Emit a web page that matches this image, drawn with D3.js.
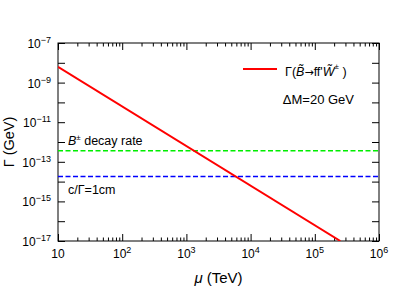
<!DOCTYPE html>
<html>
<head>
<meta charset="utf-8">
<script src="https://cdn.jsdelivr.net/npm/d3@7"></script>
<style>
  body { margin: 0; background: #fff; }
  svg { font-family: "Liberation Sans", Arial, sans-serif; }
</style>
</head>
<body>
<div id="vis"></div>
<script>
// curve endpoints (straight line in log-log)
var muValues = [10, 2.5e5];
var gammaValues = [6.2e-9, 1e-17];
// horizontal reference levels
var refNames = ["B decay rate", "c/Γ=1cm"];
var refValues = [3.6e-13, 1.8e-14];
var refColors = ["#00ee00", "#0000ff"];
// tick exponents
var xTickExp = [1, 2, 3, 4, 5, 6];
var yTickExp = [-7, -8, -9, -10, -11, -12, -13, -14, -15, -16, -17];
var yLabelExp = [-7, -9, -11, -13, -15, -17];

var margin = {top: 43, right: 36, bottom: 48, left: 58};
var W = 415, H = 289;
var width = W - margin.left - margin.right,
    height = H - margin.top - margin.bottom;

var svg = d3.select("#vis").append("svg")
  .attr("width", W)
  .attr("height", H);

var g = svg.append("g")
  .attr("transform", "translate(" + margin.left + "," + margin.top + ")");

var x = d3.scaleLog().domain([10, 1e6]).range([0, width]);
var y = d3.scaleLog().domain([1e-17, 1e-7]).range([height, 0]);

// minor x ticks 2..9 per decade
var xMajor = xTickExp.map(function(e) { return Math.pow(10, e); });
var xMinor = [];
xTickExp.slice(0, -1).forEach(function(e) {
  for (var m = 2; m < 10; m++) xMinor.push(m * Math.pow(10, e));
});
var yMajor = yTickExp.map(function(e) { return Math.pow(10, e); });

function tickAxis(axis, vals, size) {
  return axis.tickValues(vals).tickSize(size).tickFormat("");
}

var axes = g.append("g").attr("class", "axes");
axes.append("g").attr("transform", "translate(0," + height + ")").call(tickAxis(d3.axisBottom(x), xMajor, -7));
axes.append("g").attr("transform", "translate(0," + height + ")").call(tickAxis(d3.axisBottom(x), xMinor, -3.5));
axes.append("g").call(tickAxis(d3.axisTop(x), xMajor, -7));
axes.append("g").call(tickAxis(d3.axisTop(x), xMinor, -3.5));
axes.append("g").call(tickAxis(d3.axisLeft(y), yMajor, -7));
axes.append("g").attr("transform", "translate(" + width + ",0)").call(tickAxis(d3.axisRight(y), yMajor, -7));
axes.selectAll(".domain").remove();
axes.selectAll("line").attr("stroke", "#000");

g.append("rect")
  .attr("width", width).attr("height", height)
  .attr("fill", "none").attr("stroke", "#000").attr("stroke-width", 1);

// x tick labels
var xl = g.append("g").attr("font-size", 12).attr("text-anchor", "middle");
xTickExp.forEach(function(e) {
  var t = xl.append("text").attr("x", x(Math.pow(10, e))).attr("y", height + 17);
  if (e === 1) { t.text("10"); return; }
  t.append("tspan").text("10");
  t.append("tspan").attr("dy", -5).attr("font-size", 9).text(e);
});

// y tick labels
var yl = g.append("g").attr("font-size", 12).attr("text-anchor", "end");
yLabelExp.forEach(function(e) {
  var t = yl.append("text").attr("x", -7).attr("y", y(Math.pow(10, e)) + 5);
  t.append("tspan").text("10");
  t.append("tspan").attr("dy", -5).attr("font-size", 9).text("\u2212" + (-e));
});

// axis titles
g.append("text")
  .attr("x", width / 2).attr("y", height + 42)
  .attr("text-anchor", "middle").attr("font-size", 15)
  .html('<tspan font-style="italic">μ</tspan> (TeV)');

g.append("text")
  .attr("transform", "translate(" + (-44) + "," + (height / 2) + ") rotate(-90)")
  .attr("text-anchor", "middle").attr("font-size", 14.5)
  .text("Γ (GeV)");

var clip = svg.append("clipPath").attr("id", "clip")
  .append("rect").attr("width", width).attr("height", height);

var plot = g.append("g").attr("clip-path", "url(#clip)");

// reference lines
refValues.forEach(function(v, i) {
  plot.append("line")
    .attr("x1", 0).attr("x2", width)
    .attr("y1", y(v)).attr("y2", y(v))
    .attr("stroke", refColors[i]).attr("stroke-width", 1.6)
    .attr("stroke-dasharray", "5,2.5");
});

var line = d3.line()
  .x(function(d) { return x(d[0]); })
  .y(function(d) { return y(d[1]); });

plot.append("path")
  .datum(d3.zip(muValues, gammaValues))
  .attr("d", line)
  .attr("fill", "none")
  .attr("stroke", "#ff0000")
  .attr("stroke-width", 2);

// annotations
var ann = g.append("g").attr("font-size", 12.5);
var b = ann.append("text").attr("x", 10).attr("y", y(refValues[0]) - 6);
b.append("tspan").attr("font-style", "italic").text("B");
b.append("tspan").attr("dy", -5).attr("font-size", 8).text("±");
b.append("tspan").attr("dy", 5).text(" decay rate");

ann.append("text").attr("x", 10).attr("y", y(refValues[1]) + 17).text(refNames[1]);

// legend
var leg = g.append("g").attr("transform", "translate(185,26)");
leg.append("line").attr("x1", 0).attr("x2", 34).attr("y1", 0).attr("y2", 0)
  .attr("stroke", "#ff0000").attr("stroke-width", 2);
var lt = leg.append("text").attr("x", 42).attr("y", 7).attr("font-size", 12.5);
lt.append("tspan").text("Γ(");
lt.append("tspan").attr("font-style", "italic").text("B\u0303");
lt.append("tspan").attr("font-family", "DejaVu Sans").attr("font-size", 11).text("→");
lt.append("tspan").text("ff'");
lt.append("tspan").attr("font-style", "italic").text("W\u0303");
lt.append("tspan").attr("dy", -7).attr("font-size", 8).text("±");
lt.append("tspan").attr("dy", 7).text(" )");

leg.append("text").attr("x", 111).attr("y", 35).attr("font-size", 13)
  .attr("text-anchor", "end").text("ΔM=20 GeV");
</script>
</body>
</html>
